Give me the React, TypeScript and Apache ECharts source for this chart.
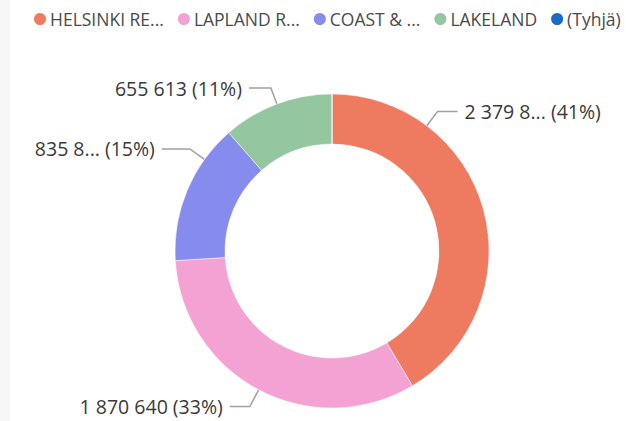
import React, { useEffect, useRef } from "react";
import * as echarts from "echarts";

const categories = ["HELSINKI RE...", "LAPLAND R...", "COAST & ...", "LAKELAND", "(Tyhjä)"];
const values = [2379850, 1870640, 835850, 655613, 0];
const valueLabels = ["2 379 8...", "1 870 640", "835 8...", "655 613", ""];
const colors = ["#EE7A60", "#F4A2D3", "#868CEE", "#94C6A0", "#1A6BC6"];

// layout
const CX = 332;
const CY = 251;
const R_IN = 107;
const R_OUT = 157;
const angleShift = [-37.5, 0, 13, 0, 0];
const LEN1 = [18, 19, 18, 17, 0];
const LEN2 = [20, 20, 28, 22, 0];

export default function App() {
  const ref = useRef<HTMLDivElement>(null);
  useEffect(() => {
    document.body.style.margin = "0";
    if (!ref.current) return;
    const chart = echarts.init(ref.current, undefined, { renderer: "svg" });
    const total = values.reduce((a, b) => a + b, 0);
    const mids: number[] = [];
    let acc = 0;
    values.forEach((v) => {
      mids.push(((acc + v / 2) / total) * 360);
      acc += v;
    });
    chart.setOption({
      animation: false,
      backgroundColor: "#ffffff",
      color: colors,
      graphic: [
        { type: "rect", shape: { x: 0, y: 0, width: 10, height: 421 }, style: { fill: "#F7F7F7" }, silent: true },
      ],
      legend: {
        left: 27,
        top: 5,
        icon: "circle",
        itemWidth: 14,
        itemHeight: 14,
        itemGap: 12,
        textStyle: { fontFamily: "Open Sans", fontSize: 17.5, color: "#4a4a4a", padding: [0, 0, 0, -2] },
        data: categories,
      },
      series: [
        {
          type: "pie",
          center: [CX, CY],
          radius: [R_IN, R_OUT],
          startAngle: 90,
          clockwise: true,
          avoidLabelOverlap: false,
          itemStyle: { borderColor: "#ffffff", borderWidth: 0.5 },
          label: {
            show: true,
            position: "outside",
            fontFamily: "Open Sans",
            fontSize: 19.5,
            color: "#3a3a3a",
            formatter: (p: any) => `${valueLabels[p.dataIndex]} (${Math.round(p.percent)}%)`,
          },
          labelLine: { show: true, length: 18, length2: 20, lineStyle: { color: "#A0A0A0", width: 1.5 } },
          labelLayout: (p: any) => {
            const i = p.dataIndex;
            const th = ((mids[i] + angleShift[i]) * Math.PI) / 180;
            const sx = Math.sin(th);
            const cy = -Math.cos(th);
            const p0 = [CX + R_OUT * sx, CY + R_OUT * cy];
            const p1 = [CX + (R_OUT + LEN1[i]) * sx, CY + (R_OUT + LEN1[i]) * cy];
            const dir = sx >= 0 ? 1 : -1;
            const p2 = [p1[0] + dir * LEN2[i], p1[1]];
            return {
              x: p2[0] + dir * 7,
              y: p2[1],
              align: dir > 0 ? "left" : "right",
              verticalAlign: "middle",
              labelLinePoints: [p0, p1, p2],
            };
          },
          data: categories.map((name, i) => ({
            name,
            value: values[i],
            ...(values[i] === 0 ? { label: { show: false }, labelLine: { show: false } } : {}),
          })),
        },
      ],
    });
    return () => chart.dispose();
  }, []);
  return <div ref={ref} style={{ width: 626, height: 421 }} />;
}
